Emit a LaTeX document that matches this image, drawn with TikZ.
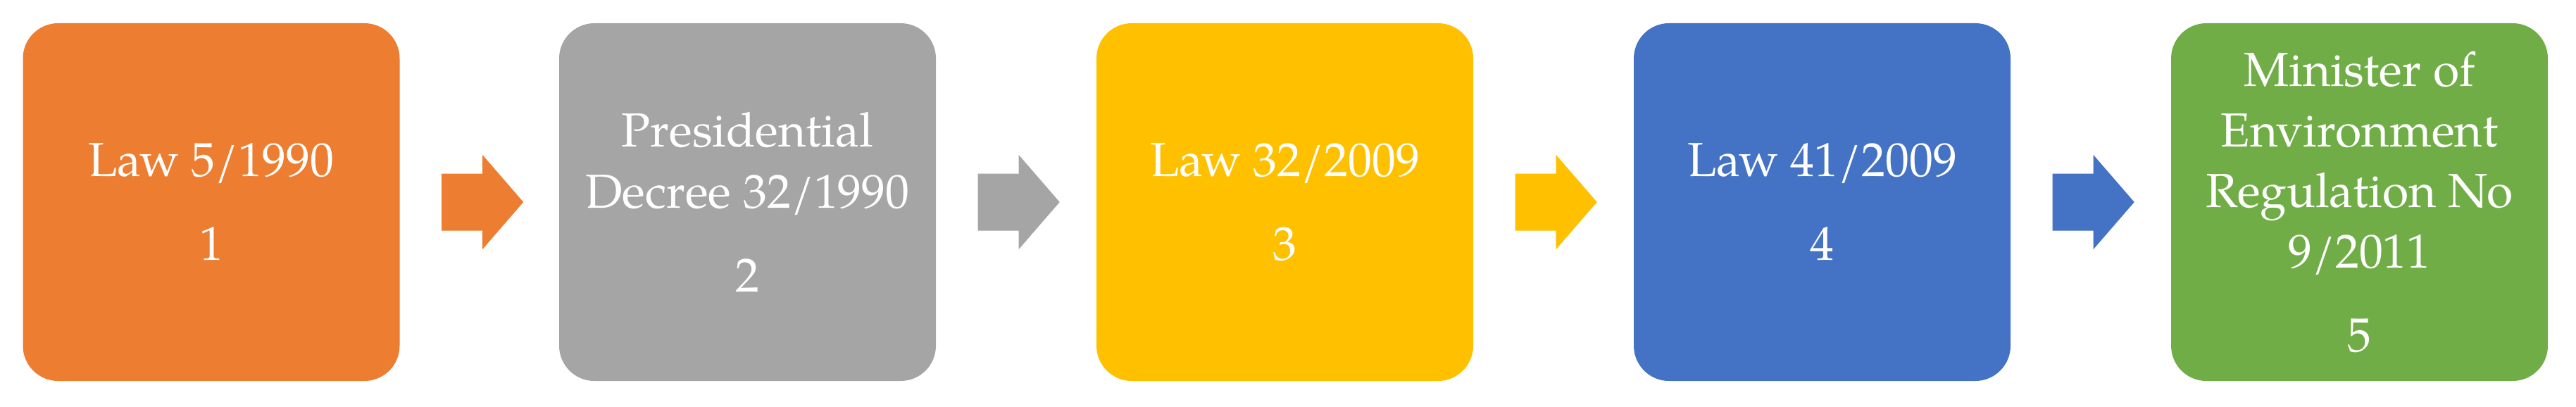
\documentclass[tikz,border=0pt]{standalone}
\usepackage{fontspec}
\setmainfont{TeX Gyre Pagella}
\usetikzlibrary{calc}
\definecolor{corange}{HTML}{ED7D31}
\definecolor{cgray}{HTML}{A5A5A5}
\definecolor{cgold}{HTML}{FFC000}
\definecolor{cblue}{HTML}{4472C4}
\definecolor{cgreen}{HTML}{70AD47}
\tikzset{
  stagebox/.style={rectangle, rounded corners=0.5cm, minimum width=5.35cm, minimum height=5.08cm,
    inner sep=0pt, text=white, align=center, font=\fontsize{19.3}{24.5}\selectfont},
}
\newcommand{\blockarrow}[2]{%
  \fill[#2] ($(#1.east)+(0.59,0.405)$) -- ++(0.58,0) -- ++(0,0.265) -- ++(0.58,-0.67)
    -- ++(-0.58,-0.67) -- ++(0,0.265) -- ++(-0.58,0) -- cycle;}
\begin{document}
\begin{tikzpicture}
\useasboundingbox (0,0) rectangle (36.58,5.77);
\node[stagebox, fill=corange] (b1) at (3.00,2.90) {Law 5/1990\\[0.33cm]1};
\node[stagebox, fill=cgray] (b2) at (10.615,2.90) {Presidential\\Decree 32/1990\\[0.33cm]2};
\node[stagebox, fill=cgold] (b3) at (18.245,2.90) {Law 32/2009\\[0.33cm]3};
\node[stagebox, fill=cblue] (b4) at (25.875,2.90) {Law 41/2009\\[0.33cm]4};
\node[stagebox, fill=cgreen] (b5) at (33.505,2.90) {Minister of\\Environment\\Regulation No\\9/2011\\[0.33cm]5};
\blockarrow{b1}{corange}
\blockarrow{b2}{cgray}
\blockarrow{b3}{cgold}
\blockarrow{b4}{cblue}
\end{tikzpicture}
\end{document}
